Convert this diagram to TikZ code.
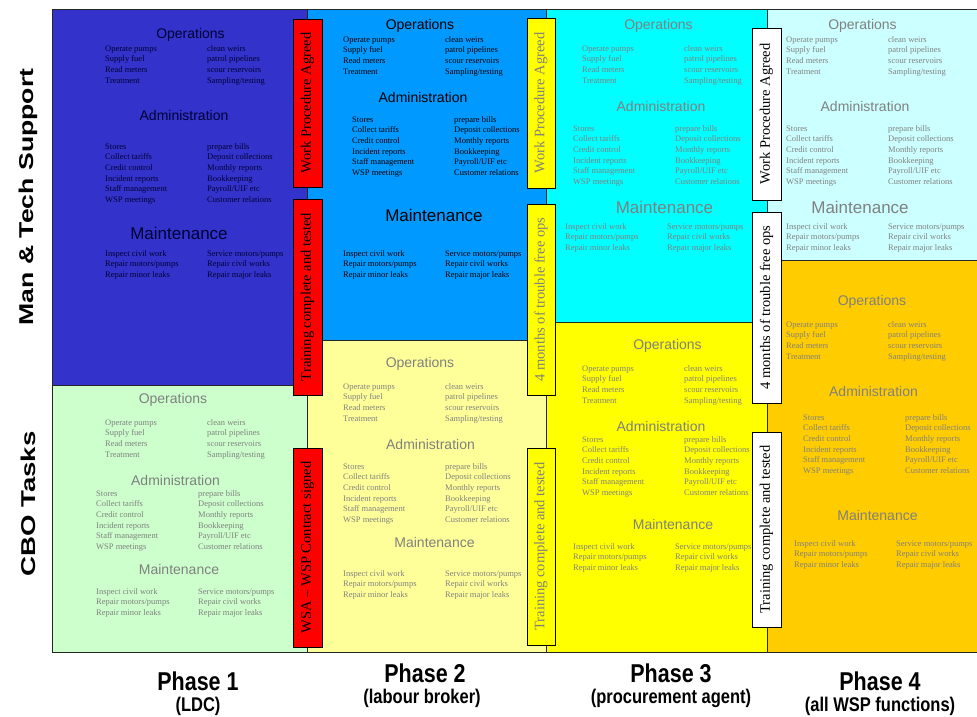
\documentclass[tikz,border=0pt]{standalone}
\usepackage{fontspec}
\setmainfont{Liberation Serif}
\setsansfont{Liberation Sans}
\usepackage{array}
\usepackage{graphicx}

\definecolor{cDarkBlue}{HTML}{3333CC}
\definecolor{cMidBlue}{HTML}{0099FF}
\definecolor{cPaleGreen}{HTML}{CCFFCC}
\definecolor{cPaleYellow}{HTML}{FFFF99}
\definecolor{cCyan}{HTML}{00FFFF}
\definecolor{cYellow}{HTML}{FFFF00}
\definecolor{cLightCyan}{HTML}{CCFFFF}
\definecolor{cOrange}{HTML}{FFCC00}
\definecolor{cRed}{HTML}{FF0000}
\definecolor{cGrayTxt}{HTML}{808080}
\definecolor{cNavyTxt}{HTML}{000033}

\newcommand\opsTab{\begin{tabular}[t]{@{}p{102pt}@{}l@{}}Operate pumps & clean weirs\\Supply fuel & patrol pipelines\\Read meters & scour reservoirs\\Treatment & Sampling/testing\end{tabular}}
\newcommand\admTab{\begin{tabular}[t]{@{}p{102pt}@{}l@{}}Stores & prepare bills\\Collect tariffs & Deposit collections\\Credit control & Monthly reports\\Incident reports & Bookkeeping\\Staff management & Payroll/UIF etc\\WSP meetings & Customer relations\end{tabular}}
\newcommand\mntTab{\begin{tabular}[t]{@{}p{102pt}@{}l@{}}Inspect civil work & Service motors/pumps\\Repair motors/pumps & Repair civil works\\Repair minor leaks & Repair major leaks\end{tabular}}

\tikzset{
  panel/.style={draw=black!85, line width=1pt},
  items/.style={font=\fontsize{8.5}{10.65}\selectfont, inner sep=0pt, anchor=base west},
  hd/.style={font=\sffamily\fontsize{14}{16}\selectfont, inner sep=0pt},
  hdbig/.style={font=\sffamily\fontsize{17}{19}\selectfont, inner sep=0pt},
  mbox/.style={draw=black, line width=0.9pt, rotate=90, inner sep=0pt,
    font=\fontsize{14.5}{16}\selectfont, minimum height=29pt},
  rowlbl/.style={rotate=90, inner sep=0pt, font=\sffamily\bfseries\fontsize{20}{24}\selectfont},
  phlbl/.style={inner sep=0pt, font=\sffamily\bfseries\fontsize{21.5}{24}\selectfont},
  phsub/.style={inner sep=0pt, font=\sffamily\bfseries\fontsize{16.5}{18}\selectfont},
}

\begin{document}
\begin{tikzpicture}[x=1pt, y=-1pt]
\useasboundingbox (0,0) rectangle (977,717);
\fill[white] (0,0) rectangle (977,717);

% panels
\path[panel, fill=cDarkBlue]   (52,10)  rectangle (307,385);
\path[panel, fill=cPaleGreen]  (52,385) rectangle (307,652);
\path[panel, fill=cMidBlue]    (307,10) rectangle (546,340);
\path[panel, fill=cPaleYellow] (307,340) rectangle (546,652);
\path[panel, fill=cCyan]       (546,10) rectangle (767,322);
\path[panel, fill=cYellow]     (546,322) rectangle (767,652);
\path[panel, fill=cLightCyan]  (767,10) rectangle (980,260);
\path[panel, fill=cOrange]     (767,260) rectangle (980,652);

% Phase 1 top
\node[hd, text=cNavyTxt] (p1tOh) at (190.5,35) {Operations};
\node[items, text=cNavyTxt] (p1tO) at (105,51.3) {\opsTab};
\node[hd, text=cNavyTxt] (p1tAh) at (184,115) {Administration};
\node[items, text=cNavyTxt] (p1tA) at (105,149.3) {\admTab};
\node[hdbig, text=cNavyTxt] (p1tMh) at (179,233) {Maintenance};
\node[items, text=cNavyTxt] (p1tM) at (105,256.3) {\mntTab};

% Phase 1 bottom
\node[hd, text=cGrayTxt] (p1bOh) at (173,400) {Operations};
\node[items, text=cGrayTxt] (p1bO) at (105,425.3) {\opsTab};
\node[hd, text=cGrayTxt] (p1bAh) at (175.5,480) {Administration};
\node[items, text=cGrayTxt] (p1bA) at (96,496.3) {\admTab};
\node[hd, text=cGrayTxt] (p1bMh) at (179,569) {Maintenance};
\node[items, text=cGrayTxt] (p1bM) at (96,594.3) {\mntTab};

% Phase 2 top
\node[hd, text=black] (p2tOh) at (420,26) {Operations};
\node[items, text=black] (p2tO) at (343,42.3) {\opsTab};
\node[hd, text=black] (p2tAh) at (423,97) {Administration};
\node[items, text=black] (p2tA) at (352,122.3) {\admTab};
\node[hdbig, text=black] (p2tMh) at (434,215) {Maintenance};
\node[items, text=black] (p2tM) at (343,256.3) {\mntTab};

% Phase 2 bottom
\node[hd, text=cGrayTxt] (p2bOh) at (420,364) {Operations};
\node[items, text=cGrayTxt] (p2bO) at (343,389.3) {\opsTab};
\node[hd, text=cGrayTxt] (p2bAh) at (430.5,444) {Administration};
\node[items, text=cGrayTxt] (p2bA) at (343,469.3) {\admTab};
\node[hd, text=cGrayTxt] (p2bMh) at (434.5,542) {Maintenance};
\node[items, text=cGrayTxt] (p2bM) at (343,576.3) {\mntTab};

% Phase 3 top
\node[hd, text=cGrayTxt] (p3tOh) at (658.5,26) {Operations};
\node[items, text=cGrayTxt] (p3tO) at (582,51.3) {\opsTab};
\node[hd, text=cGrayTxt] (p3tAh) at (661,106) {Administration};
\node[items, text=cGrayTxt] (p3tA) at (573,131.3) {\admTab};
\node[hdbig, text=cGrayTxt] (p3tMh) at (664.5,207) {Maintenance};
\node[items, text=cGrayTxt] (p3tM) at (565,229.3) {\mntTab};

% Phase 3 bottom
\node[hd, text=cGrayTxt] (p3bOh) at (667.5,346) {Operations};
\node[items, text=cGrayTxt] (p3bO) at (582,371.3) {\opsTab};
\node[hd, text=cGrayTxt] (p3bAh) at (661,426) {Administration};
\node[items, text=cGrayTxt] (p3bA) at (582,442.3) {\admTab};
\node[hd, text=cGrayTxt] (p3bMh) at (673,524) {Maintenance};
\node[items, text=cGrayTxt] (p3bM) at (573,549.3) {\mntTab};

% Phase 4 top
\node[hd, text=cGrayTxt] (p4tOh) at (862.5,26) {Operations};
\node[items, text=cGrayTxt] (p4tO) at (786,42.3) {\opsTab};
\node[hd, text=cGrayTxt] (p4tAh) at (865,106) {Administration};
\node[items, text=cGrayTxt] (p4tA) at (786,131.3) {\admTab};
\node[hdbig, text=cGrayTxt] (p4tMh) at (860,207) {Maintenance};
\node[items, text=cGrayTxt] (p4tM) at (786,229.3) {\mntTab};

% Phase 4 bottom
\node[hd, text=cGrayTxt] (p4bOh) at (872,302) {Operations};
\node[items, text=cGrayTxt] (p4bO) at (786,327.3) {\opsTab};
\node[hd, text=cGrayTxt] (p4bAh) at (873.5,391) {Administration};
\node[items, text=cGrayTxt] (p4bA) at (803,420.3) {\admTab};
\node[hd, text=cGrayTxt] (p4bMh) at (877.5,515) {Maintenance};
\node[items, text=cGrayTxt] (p4bM) at (794,546.3) {\mntTab};

% milestone boxes between phase 1 and 2
\node[mbox, fill=cRed, text=black, minimum width=168pt] (m12a) at (307.5,103) {Work Procedure Agreed};
\node[mbox, fill=cRed, text=black, minimum width=196pt] (m12b) at (307.5,297) {Training complete and tested};
\node[mbox, fill=cRed, text=black, minimum width=199pt] (m12c) at (307.5,547.5) {WSA -- WSP Contract signed};

% milestone boxes between phase 2 and 3
\node[mbox, fill=cYellow, text=cGrayTxt, minimum width=170pt, minimum height=28pt] (m23a) at (541,103) {Work Procedure Agreed};
\node[mbox, fill=cYellow, text=cGrayTxt, minimum width=191pt, minimum height=28pt] (m23b) at (541,299.5) {4 months of trouble free ops};
\node[mbox, fill=cYellow, text=cGrayTxt, minimum width=197pt, minimum height=28pt] (m23c) at (541,546.5) {Training complete and tested};

% milestone boxes between phase 3 and 4
\node[mbox, fill=white, text=black, minimum width=172pt] (m34a) at (766.5,114) {Work Procedure Agreed};
\node[mbox, fill=white, text=black, minimum width=191pt] (m34b) at (766.5,307.5) {4 months of trouble free ops};
\node[mbox, fill=white, text=black, minimum width=195pt] (m34c) at (766.5,529.5) {Training complete and tested};

% row labels
\node[rowlbl] (rowMan) at (28,197) {\scalebox{1.33}[1]{Man \& Tech Support}};
\node[rowlbl] (rowCBO) at (28,504) {\scalebox{1.38}[1]{CBO Tasks}};

% phase labels
\node[phlbl] (ph1) at (198,681) {\scalebox{1}[1.2]{Phase 1}};
\node[phsub] (ph1s) at (198,706) {\scalebox{1}[1.2]{(LDC)}};
\node[phlbl] (ph2) at (425,673) {\scalebox{1}[1.2]{Phase 2}};
\node[phsub] (ph2s) at (422,698) {\scalebox{1}[1.2]{(labour broker)}};
\node[phlbl] (ph3) at (671,673) {\scalebox{1}[1.2]{Phase 3}};
\node[phsub] (ph3s) at (671,698) {\scalebox{1}[1.2]{(procurement agent)}};
\node[phlbl] (ph4) at (880,681) {\scalebox{1}[1.2]{Phase 4}};
\node[phsub] (ph4s) at (880,706) {\scalebox{1}[1.2]{(all WSP functions)}};
\end{tikzpicture}
\end{document}
